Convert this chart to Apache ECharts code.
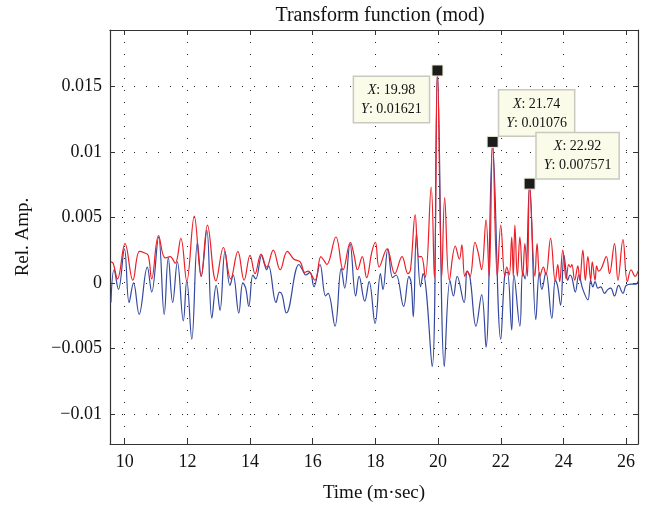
<!DOCTYPE html>
<html>
<head>
<meta charset="utf-8">
<script src="https://cdn.jsdelivr.net/npm/echarts@6/dist/echarts.min.js"></script>
<style>
  html, body { margin: 0; padding: 0; background: #fff; }
  #chart { width: 649px; height: 508px; }
</style>
</head>
<body>
<div id="chart"></div>
<script>
// Time axis (ms) and amplitude of the transform output.
// Blue: real part of the transform; red: its modulus (envelope).
const blueTime = [
  9.56, 9.66, 9.80, 9.99, 10.14, 10.28, 10.46, 10.72, 10.86, 11.08,
  11.26, 11.39, 11.53, 11.68, 11.87, 11.98, 12.14, 12.32, 12.44, 12.62,
  12.78, 12.92, 13.04, 13.20, 13.36, 13.46, 13.64, 13.77, 13.86, 13.96,
  14.09, 14.18, 14.37, 14.45, 14.53, 14.59, 14.83, 14.94, 15.02, 15.16,
  15.56, 15.67, 15.78, 15.91, 16.04, 16.23, 16.41, 16.49, 16.71, 16.91,
  17.02, 17.19, 17.37, 17.48, 17.66, 17.80, 17.99, 18.16, 18.24, 18.40,
  18.55, 18.66, 18.90, 19.07, 19.14, 19.21, 19.31, 19.44, 19.52, 19.81,
  19.98, 20.20, 20.38, 20.49, 20.61, 20.83, 20.93, 21.02, 21.21, 21.39,
  21.53, 21.74, 22.00, 22.13, 22.21, 22.35, 22.42, 22.61, 22.70, 22.78,
  22.92, 23.12, 23.23, 23.31, 23.44, 23.63, 23.74, 23.81, 23.91, 24.02,
  24.14, 24.21, 24.27, 24.38, 24.49, 24.62, 24.78, 24.87, 24.94, 25.01,
  25.10, 25.19, 25.31, 25.42, 25.51, 25.63, 25.76, 25.90, 26.00, 26.16,
  26.32, 26.38
];
const blueAmp = [
  -0.0015, 0.0010, -0.0005, 0.0026, -0.0015, 0.0000, -0.0024, 0.0012, -0.0007, 0.0035,
  -0.0024, 0.0019, -0.0015, 0.0016, -0.0029, 0.0002, -0.0043, 0.0031, 0.0005, 0.0040,
  -0.0027, -0.0002, -0.0021, 0.0024, -0.0002, 0.0006, -0.0023, 0.0000, -0.0004, -0.0018,
  0.0006, 0.0003, 0.0021, 0.0015, 0.0010, 0.0013, -0.0015, -0.0007, -0.0009, -0.0023,
  0.0014, 0.0010, 0.0006, 0.0008, -0.0003, 0.0014, -0.0010, -0.0008, -0.0033, 0.0011,
  -0.0004, 0.0030, -0.0010, 0.0005, -0.0014, 0.0001, -0.0031, 0.0007, -0.0005, 0.0026,
  0.0004, 0.0006, -0.0018, 0.0005, 0.0000, -0.0026, 0.0038, -0.0003, 0.0007, -0.0064,
  0.0160, -0.0064, 0.0002, -0.0010, 0.0005, -0.0015, 0.0009, 0.0004, -0.0033, -0.0009,
  -0.0049, 0.0105, -0.0043, 0.0007, 0.0008, -0.0036, 0.0006, -0.0033, 0.0008, 0.0003,
  0.0074, -0.0028, 0.0008, -0.0005, 0.0008, -0.0027, 0.0002, -0.0002, -0.0017, 0.0021,
  0.0002, 0.0006, 0.0004, -0.0007, 0.0006, -0.0005, -0.0013, 0.0002, -0.0003, 0.0001,
  -0.0004, -0.0003, -0.0008, -0.0005, -0.0004, -0.0010, -0.0002, -0.0008, -0.0002, -0.0001,
  -0.0001, 0.0001
];
const redTime = [
  9.56, 9.63, 9.77, 10.01, 10.26, 10.47, 10.62, 10.75, 10.86, 11.08,
  11.29, 11.45, 11.61, 11.79, 11.98, 12.22, 12.44, 12.64, 12.91, 13.15,
  13.38, 13.61, 13.81, 14.00, 14.16, 14.35, 14.53, 14.74, 14.96, 15.19,
  15.40, 15.60, 15.75, 15.85, 16.07, 16.26, 16.36, 16.45, 16.74, 16.97,
  17.20, 17.32, 17.43, 17.58, 17.72, 17.89, 18.00, 18.12, 18.37, 18.62,
  18.85, 19.04, 19.12, 19.27, 19.38, 19.47, 19.59, 19.78, 19.88, 19.98,
  20.12, 20.21, 20.36, 20.55, 20.68, 20.76, 20.85, 20.93, 21.02, 21.18,
  21.28, 21.39, 21.53, 21.63, 21.74, 21.89, 22.00, 22.13, 22.19, 22.27,
  22.35, 22.40, 22.45, 22.53, 22.61, 22.70, 22.77, 22.85, 22.92, 23.09,
  23.16, 23.25, 23.36, 23.44, 23.59, 23.74, 23.82, 23.88, 23.98, 24.09,
  24.17, 24.23, 24.27, 24.36, 24.46, 24.52, 24.62, 24.70, 24.78, 24.87,
  24.92, 25.01, 25.06, 25.12, 25.21, 25.37, 25.47, 25.63, 25.74, 25.90,
  26.04, 26.16, 26.29, 26.38
];
const redAmp = [
  0.0016, 0.0015, 0.0003, 0.0030, 0.0002, 0.0024, 0.0023, 0.0021, 0.0003, 0.0036,
  0.0019, 0.0020, 0.0015, 0.0034, 0.00015, 0.0051, 0.0005, 0.0044, 0.00015, 0.0027,
  0.0003, 0.0024, 0.0002, 0.0021, 0.0007, 0.0022, 0.0012, 0.0025, 0.0010, 0.0024,
  0.0018, 0.0016, 0.0008, 0.0009, 0.0002, 0.0020, 0.0017, 0.0014, 0.0035, 0.0010,
  0.0031, 0.0021, 0.0010, 0.0020, 0.0004, 0.0024, 0.0031, 0.0012, 0.0026, 0.0007,
  0.0020, 0.0007, 0.0010, 0.0052, 0.0020, 0.0020, 0.0004, 0.0073, 0.0004, 0.01621,
  0.0005, 0.0065, 0.0002, 0.0028, 0.0018, 0.0029, 0.0005, 0.0009, 0.0005, 0.0031,
  0.0023, 0.0010, 0.0048, 0.0005, 0.01076, 0.0005, 0.0044, 0.0005, 0.0012, 0.0006,
  0.0035, 0.0005, 0.0044, 0.0005, 0.0035, 0.0005, 0.0030, 0.0005, 0.007571, 0.0005,
  0.0030, 0.0005, 0.0012, 0.0006, 0.0034, 0.0001, 0.0014, 0.0001, 0.0025, 0.0003,
  0.0014, 0.0012, 0.0014, 0.0002, 0.0013, 0.0002, 0.0025, 0.0002, 0.0020, 0.0002,
  0.0016, 0.0002, 0.0013, 0.0009, 0.0011, 0.0020, 0.0007, 0.0030, 0.0002, 0.0033,
  0.0001, 0.0010, 0.0005, 0.0009
];

// Data tips placed on the envelope peaks
const tipX = [19.98, 21.74, 22.92];
const tipY = [0.01621, 0.01076, 0.007571];
const tipText = [
  ['19.98', '0.01621'],
  ['21.74', '0.01076'],
  ['22.92', '0.007571']
];
const tipOffset = [[-46, 29], [44, -29], [48, -28]];

const xMin = 9.53, xMax = 26.38;
const yMin = -0.0123, yMax = 0.0193;

const FONT = '"Liberation Serif", "Times New Roman", serif';
const frameColor = '#333';

const zip = (a, b) => a.map((v, i) => [v, b[i]]);

function yFmt(v) {
  if (Math.abs(v) < 1e-12) return '0';
  const s = String(parseFloat(Math.abs(v).toFixed(4)));
  return (v < 0 ? '\u2212' : '') + s;
}

const gridDash = { color: '#222', width: 1, type: [1, 11], dashOffset: 0 };

const chart = echarts.init(document.getElementById('chart'), null, { renderer: 'canvas' });

chart.setOption({
  animation: false,
  backgroundColor: '#fff',
  title: {
    text: 'Transform function (mod)',
    left: 375,
    top: 1,
    textAlign: 'center',
    textStyle: { fontFamily: FONT, fontSize: 20, fontWeight: 'normal', color: '#111' }
  },
  grid: { left: 110, right: 11, top: 30, bottom: 64, containLabel: false },
  xAxis: [
    {
      type: 'value', min: xMin, max: xMax, splitNumber: 8,
      name: 'Time (m\u00b7sec)', nameLocation: 'middle', nameGap: 40,
      nameTextStyle: { fontFamily: FONT, fontSize: 19, color: '#111' },
      axisLine: { onZero: false, lineStyle: { color: frameColor, width: 1.2 } },
      axisTick: { inside: true, length: 5, lineStyle: { color: frameColor } },
      axisLabel: { fontFamily: FONT, fontSize: 18, color: '#111', margin: 9,
                   showMinLabel: false, showMaxLabel: false },
      splitLine: { show: true, lineStyle: gridDash }
    },
    {
      type: 'value', min: xMin, max: xMax, splitNumber: 8, position: 'top',
      axisLine: { onZero: false, lineStyle: { color: frameColor, width: 1.2 } },
      axisTick: { inside: true, length: 5, lineStyle: { color: frameColor } },
      axisLabel: { show: false },
      splitLine: { show: false }
    }
  ],
  yAxis: [
    {
      type: 'value', min: yMin, max: yMax, splitNumber: 6,
      name: 'Rel. Amp.', nameLocation: 'middle', nameGap: 77, nameRotate: 90,
      nameTextStyle: { fontFamily: FONT, fontSize: 19, color: '#111' },
      axisLine: { onZero: false, lineStyle: { color: frameColor, width: 1.2 } },
      axisTick: { inside: true, length: 5, lineStyle: { color: frameColor } },
      axisLabel: { fontFamily: FONT, fontSize: 18, color: '#111', margin: 8,
                   formatter: yFmt, showMinLabel: false, showMaxLabel: false },
      splitLine: { show: true, lineStyle: gridDash }
    },
    {
      type: 'value', min: yMin, max: yMax, splitNumber: 6, position: 'right',
      axisLine: { onZero: false, lineStyle: { color: frameColor, width: 1.2 } },
      axisTick: { inside: true, length: 5, lineStyle: { color: frameColor } },
      axisLabel: { show: false },
      splitLine: { show: false }
    }
  ],
  series: [
    {
      name: 'real', type: 'line', data: zip(blueTime, blueAmp),
      showSymbol: false, smooth: 0.4, clip: true,
      lineStyle: { color: '#34489f', width: 1.2 },
      z: 2
    },
    {
      name: 'modulus', type: 'line', data: zip(redTime, redAmp),
      showSymbol: false, smooth: 0.4, clip: true,
      lineStyle: { color: '#ec1f26', width: 1.2 },
      z: 3,
      markPoint: {
        symbol: 'rect', symbolSize: 11,
        itemStyle: { color: '#1c1c1c', borderColor: '#eeeed8', borderWidth: 1 },
        data: tipX.map((x, i) => ({
          coord: [x, tipY[i]],
          label: {
            show: true, position: 'inside', offset: tipOffset[i],
            align: 'center', verticalAlign: 'middle',
            formatter: '{i|X}{n|: ' + tipText[i][0] + '}\n{i|Y}{n|: ' + tipText[i][1] + '}',
            backgroundColor: '#fbfbea', borderColor: '#c9c9bf', borderWidth: 1.5,
            padding: [4, 7, 3, 7], lineHeight: 19,
            rich: {
              i: { fontFamily: FONT, fontSize: 14, fontStyle: 'italic', color: '#111', lineHeight: 19 },
              n: { fontFamily: FONT, fontSize: 14, color: '#111', lineHeight: 19 }
            }
          }
        }))
      }
    }
  ]
});
</script>
</body>
</html>
